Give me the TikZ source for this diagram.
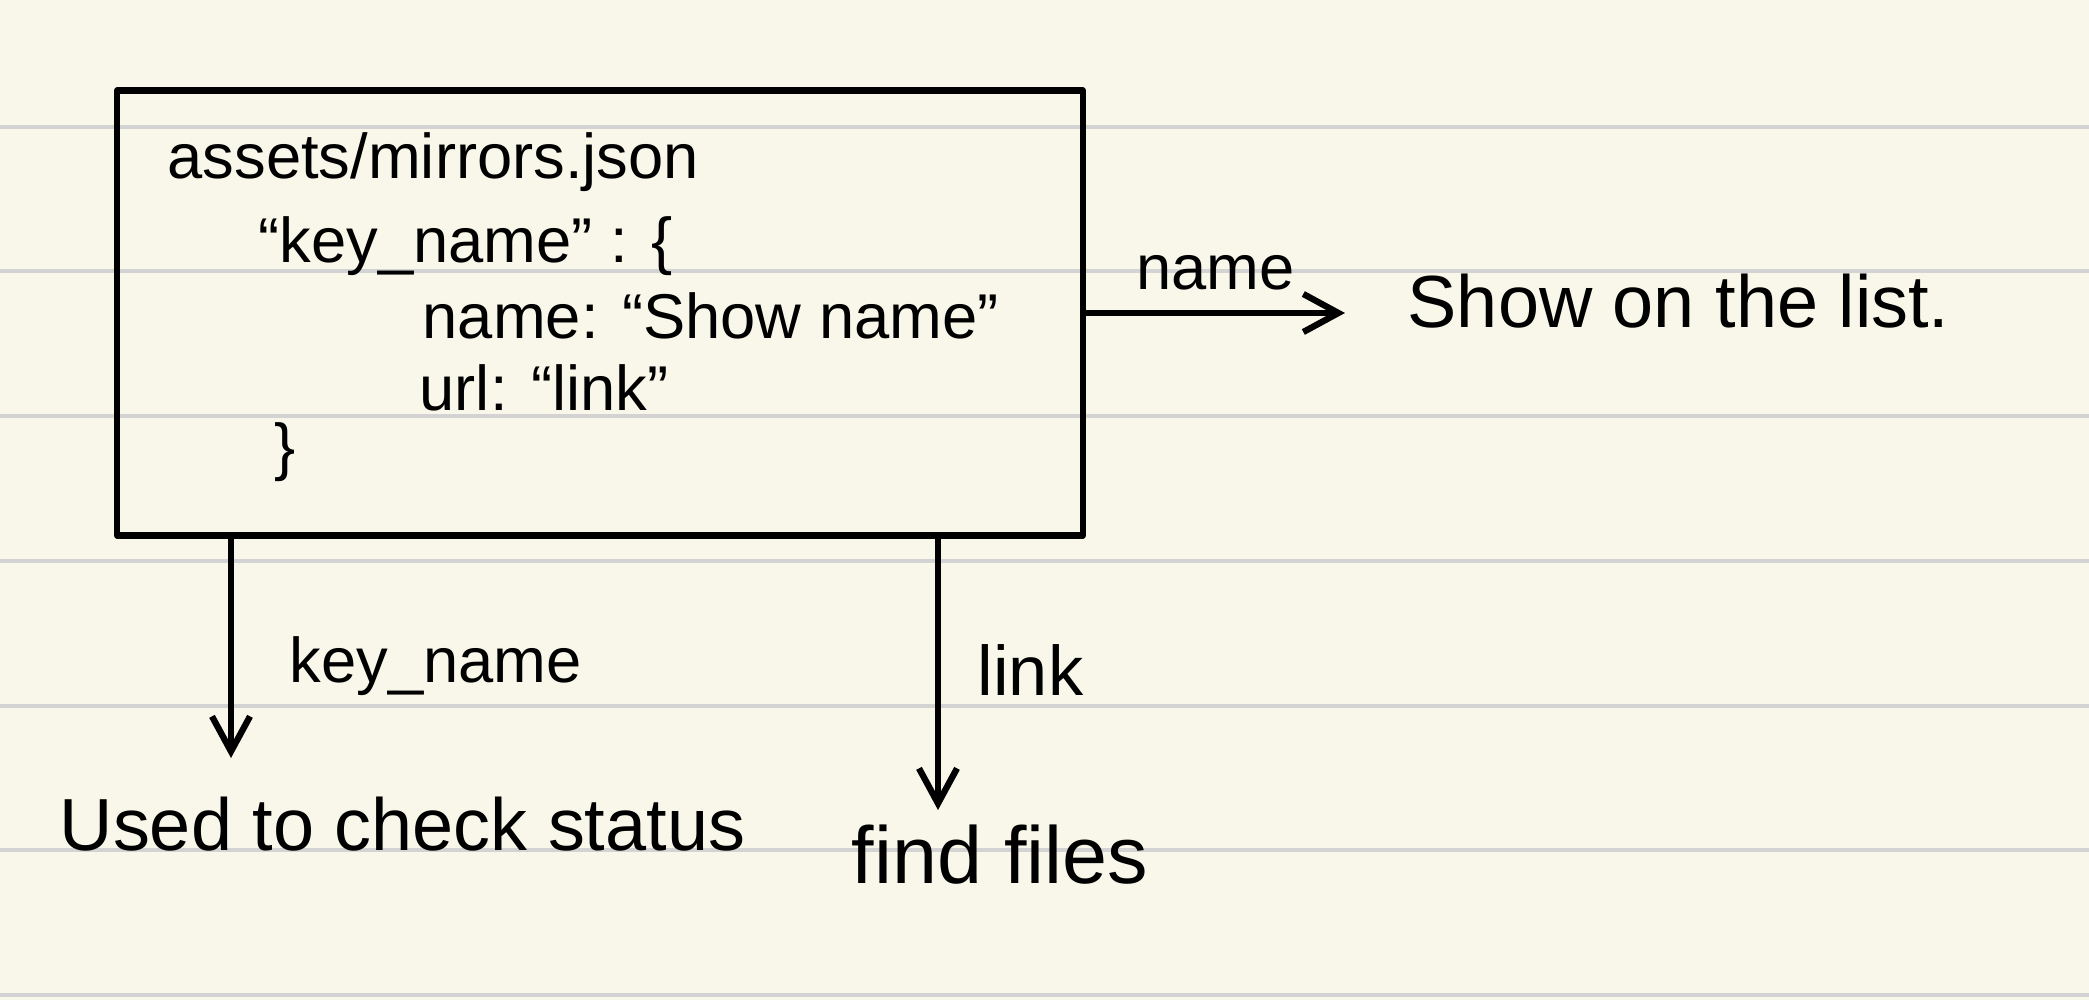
\documentclass[tikz,border=0pt]{standalone}
\usepackage{fontspec}
\setmainfont{Liberation Sans}
\usetikzlibrary{arrows.meta}

\begin{document}
\begin{tikzpicture}[x=0.01cm, y=-0.01cm,
    pen/.style={line width=1.8pt, line cap=round, line join=round},
    arrowPen/.style={pen, -{Straight Barb[length=3.5mm, width=3.8mm]}},
    handText/.style={anchor=base west, inner sep=0pt, font=\fontsize{18}{22}\selectfont},
    noteText/.style={anchor=base west, inner sep=0pt, font=\fontsize{21}{25}\selectfont}]
    \definecolor{paperColour}{HTML}{F8F7EA}
    \definecolor{ruleColour}{HTML}{D3D3D3}

    % Paper and ruled lines
    \useasboundingbox (0,0) rectangle (2089,1000);
    \fill[paperColour] (0,0) rectangle (2089,1000);
    \foreach \y in {127,271,416,561,706,850,995}
        \draw[ruleColour, line width=1.1pt] (0,\y) -- (2089,\y);

    % JSON box
    \node[draw, pen, minimum width=9.65cm, minimum height=4.45cm, inner sep=0pt] (box) at (600,313) {};
    \node[handText] (file) at (167,178) {assets/mirrors.json};
    \node[handText] (keyLine) at (258,262) {“key\_name” : \{};
    \node[handText] (nameLine) at (422,338) {name: “Show name”};
    \node[handText] (urlLine) at (419,410) {url: “link”};
    \node[handText] (closeBrace) at (274,468) {\}};

    % Where each field goes
    \node[noteText] (show) at (1407,327) {Show on the list.};
    \node[noteText] (used) at (59,850) {Used to check status};
    \node[noteText, font=\fontsize{23}{27}\selectfont] (find) at (851,883) {find files};

    \coordinate (keyTip) at (231,758);
    \coordinate (linkTip) at (938,810);

    \draw[arrowPen] (box.east) -- ([xshift=-0.62cm]box.east -| show.west)
        node[handText, midway, above=0.2cm] (nameLbl) {name};
    \draw[arrowPen] (box.south -| keyTip) -- (keyTip);
    \draw[arrowPen] (box.south -| linkTip) -- (linkTip);

    \node[handText] (keyLbl) at (289,682) {key\_name};
    \node[handText, font=\fontsize{20}{24}\selectfont] (linkLbl) at (977,695) {link};

\end{tikzpicture}
\end{document}
